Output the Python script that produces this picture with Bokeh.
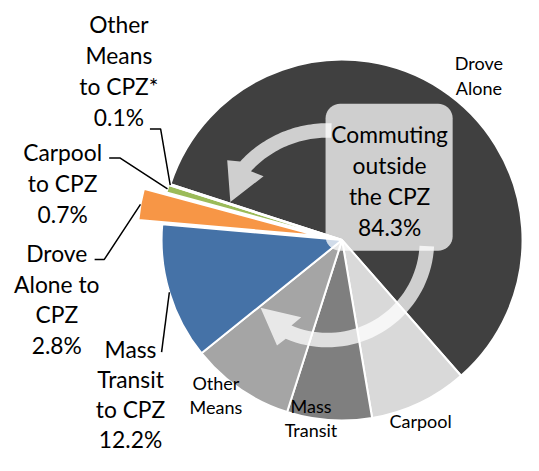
import numpy as np
from bokeh.plotting import figure
from bokeh.embed import file_html
from bokeh.resources import INLINE
from bokeh.core.properties import value
from bokeh.models import Range1d

# ---------------- data ----------------
categories = ["Drove Alone", "Carpool", "Mass Transit", "Other Means",
              "Mass Transit to CPZ", "Drove Alone to CPZ", "Carpool to CPZ",
              "Other Means to CPZ*"]
shares = [58.6, 8.8, 7.6, 9.3, 12.2, 2.8, 0.7, 0.1]
in_cpz = [False, False, False, False, True, True, True, True]
label_breaks = [["Drove", "Alone"], ["Carpool"], ["Mass", "Transit"], ["Other", "Means"],
                ["Mass", "Transit", "to CPZ"], ["Drove", "Alone to", "CPZ"],
                ["Carpool", "to CPZ"], ["Other", "Means", "to CPZ*"]]
callout_lines = ["Commuting", "outside", "the CPZ"]

# ---------------- style ----------------
colors = ["#404040", "#d9d9d9", "#7f7f7f", "#a5a5a5",
          "#4572a7", "#f79646", "#9bbb59", "#8064a2"]
explode = [0, 0, 0, 0, 0, 25, 1.5, 0]
W, H = 539, 471
FONT = "Lato"
BIG, SMALL = "22.8px", "18px"
TEXT_DY = 7  # baseline correction for the renderer


def D(sx, sy):
    return sx, H - sy


CX, CY = D(352, 248)
R = 186
START = 288.0  # clockwise from 12 o'clock

p = figure(width=523, height=455, output_backend="svg", toolbar_location=None,
           x_range=Range1d(0, W), y_range=Range1d(0, H), min_border=0,
           x_axis_location=None, y_axis_location=None)
p.outline_line_color = None
p.xgrid.visible = False
p.ygrid.visible = False
p.background_fill_color = "white"
p.border_fill_color = "white"

total = sum(shares)
theta = [START]
for s in shares:
    theta.append(theta[-1] + s * 360.0 / total)

mids = []
for i, s in enumerate(shares):
    t0, t1 = theta[i], theta[i + 1]
    tm = np.radians((t0 + t1) / 2)
    dx, dy = explode[i] * np.sin(tm), explode[i] * np.cos(tm)
    mids.append((CX + dx + R * np.sin(tm), CY + dy + R * np.cos(tm)))
    p.wedge(x=CX + dx, y=CY + dy, radius=R,
            start_angle=np.radians(90 - t0), end_angle=np.radians(90 - t1),
            direction="clock", fill_color=colors[i], line_color="white", line_width=2)

# ---------------- callout box + arrows ----------------
def rounded_rect(x0, y0, x1, y1, r, n=10):
    xs, ys = [], []
    corners = [(x1 - r, y0 + r, -90, 0), (x1 - r, y1 - r, 0, 90),
               (x0 + r, y1 - r, 90, 180), (x0 + r, y0 + r, 180, 270)]
    for cx, cy, a0, a1 in corners:
        a = np.radians(np.linspace(a0, a1, n))
        xs += list(cx + r * np.cos(a))
        ys += list(cy + r * np.sin(a))
    return xs, ys

bx0, by0 = D(335, 259)
bx1, by1 = D(466, 107)
rx, ry = rounded_rect(bx0, by0, bx1, by1, 15)
p.patch(rx, ry, fill_color="white", fill_alpha=0.75, line_color=None)

AX, AY = D(337, 249)

def arrow(a0, a1, rad, hw, base_out, tip, base_in):
    a = np.radians(np.linspace(a0, a1, 40))
    xs = list(AX + (rad + hw) * np.cos(a))
    ys = list(AY + (rad + hw) * np.sin(a))
    for ang, rr in (base_out, tip, base_in):
        xs.append(AX + rr * np.cos(np.radians(ang)))
        ys.append(AY + rr * np.sin(np.radians(ang)))
    xs += list(AX + (rad - hw) * np.cos(a[::-1]))
    ys += list(AY + (rad - hw) * np.sin(a[::-1]))
    p.patch(xs, ys, fill_color="white", fill_alpha=0.75, line_color=None)

arrow(88, 137.5, 114.5, 7.5, (141, 133), (158, 108), (134.5, 94))
arrow(-3, -113, 102.5, 7.5, (-115.7, 120), (-135, 97.6), (-108.9, 83.5))


def put_text(cx, base, t, fs):
    x, y = D(cx, base - TEXT_DY)
    p.text(x=[x], y=[y], text=[t], text_font=value(FONT), text_font_size=fs,
           text_align="center", text_baseline="alphabetic", text_color="black")


outside_total = sum(s for s, c in zip(shares, in_cpz) if not c)
box_text = callout_lines + [f"{outside_total:.1f}%"]
for k, t in enumerate(box_text):
    put_text(401, 145 + 32 * k, t, BIG)

# ---------------- labels ----------------
# (center x, first baseline, line step, font size) in reference pixels
label_pos = [(493, 72, 26, SMALL), (433, 442, 26, SMALL),
             (320, 427, 25, SMALL), (222, 403, 25, SMALL),
             (134, 368, 31, BIG), (58, 268, 32, BIG),
             (64, 163.5, 32, BIG), (122, 31.5, 32, BIG)]
for i, lines in enumerate(label_breaks):
    lines = list(lines)
    if in_cpz[i]:
        lines.append(f"{shares[i]:.1f}%")
    cx, by, step, fs = label_pos[i]
    for k, t in enumerate(lines):
        put_text(cx, by + step * k, t, fs)

# leader lines: hook points near the labels, ending at each slice's outer mid-edge
hooks = {4: [(166, 364)], 5: [(97, 268), (107, 268)],
         6: [(112, 163), (123, 163)], 7: [(154, 133), (165, 133)]}
for i, pts in hooks.items():
    xs = [D(*q)[0] for q in pts] + [mids[i][0]]
    ys = [D(*q)[1] for q in pts] + [mids[i][1]]
    p.line(xs, ys, line_color="black", line_width=1.5)

open("out.html", "w").write(file_html(p, INLINE))
